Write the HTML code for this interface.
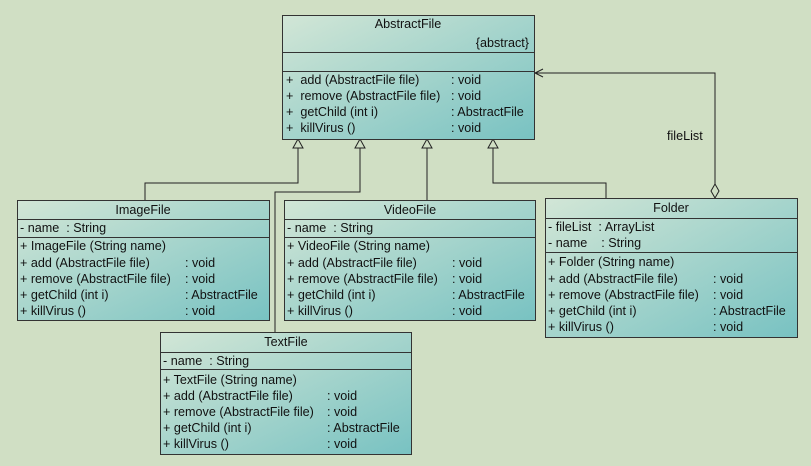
<!DOCTYPE html>
<html><head><meta charset="utf-8"><style>
html,body{margin:0;padding:0;background:#d0dfc4;}
svg{display:block;}
text{font-family:"Liberation Sans",sans-serif;font-size:12.6px;fill:#111;white-space:pre;}
</style></head><body>
<svg width="811" height="466" viewBox="0 0 811 466" xmlns="http://www.w3.org/2000/svg" xml:space="preserve">
<defs>
<linearGradient id="g" x1="0" y1="0" x2="1" y2="1">
<stop offset="0" stop-color="#d2e6d6"/>
<stop offset="1" stop-color="#78c2c2"/>
</linearGradient>
</defs>
<rect width="811" height="466" fill="#d0dfc4"/>
<g stroke="#222" fill="none" stroke-width="1">
<polyline points="298,148 298,183 145,183 145,200"/>
<polyline points="360,148 360,192 275,192 275,332"/>
<polyline points="427,148 427,200"/>
<polyline points="493,148 493,183 606,183 606,198"/>
<polyline points="715,184 715,73 535,73"/>
<polyline points="543,69 535,73 543,77"/>
</g>
<g stroke="#222" fill="#d0dfc4">
<polygon points="298,139 293,148 303,148"/>
<polygon points="360,139 355,148 365,148"/>
<polygon points="427,139 422,148 432,148"/>
<polygon points="493,139 488,148 498,148"/>
<polygon points="715,184 719,191 715,198 711,191"/>
</g>
<text x="667" y="140">fileList</text>

<rect x="282.5" y="15.5" width="252" height="124" fill="url(#g)" stroke="#333"/>
<line x1="282" y1="52.5" x2="535" y2="52.5" stroke="#333"/>
<line x1="282" y1="71.5" x2="535" y2="71.5" stroke="#333"/>
<text x="408" y="28" text-anchor="middle">AbstractFile</text>
<text x="529" y="47" text-anchor="end">{abstract}</text>
<text x="286" y="84">+  add (AbstractFile file)</text><text x="451" y="84">: void</text>
<text x="286" y="100">+  remove (AbstractFile file)</text><text x="451" y="100">: void</text>
<text x="286" y="116">+  getChild (int i)</text><text x="451" y="116">: AbstractFile</text>
<text x="286" y="132">+  killVirus ()</text><text x="451" y="132">: void</text>

<rect x="17.5" y="200.5" width="252" height="120" fill="url(#g)" stroke="#333"/>
<line x1="17" y1="219.5" x2="270" y2="219.5" stroke="#333"/>
<line x1="17" y1="237.5" x2="270" y2="237.5" stroke="#333"/>
<text x="143" y="214" text-anchor="middle">ImageFile</text>
<text x="20" y="232">- name  : String</text>
<text x="20" y="250">+ ImageFile (String name)</text>
<text x="20" y="267">+ add (AbstractFile file)</text><text x="185" y="267">: void</text>
<text x="20" y="283">+ remove (AbstractFile file)</text><text x="185" y="283">: void</text>
<text x="20" y="299">+ getChild (int i)</text><text x="185" y="299">: AbstractFile</text>
<text x="20" y="315">+ killVirus ()</text><text x="185" y="315">: void</text>

<rect x="284.5" y="200.5" width="251" height="120" fill="url(#g)" stroke="#333"/>
<line x1="284" y1="219.5" x2="536" y2="219.5" stroke="#333"/>
<line x1="284" y1="237.5" x2="536" y2="237.5" stroke="#333"/>
<text x="410" y="214" text-anchor="middle">VideoFile</text>
<text x="287" y="232">- name  : String</text>
<text x="287" y="250">+ VideoFile (String name)</text>
<text x="287" y="267">+ add (AbstractFile file)</text><text x="452" y="267">: void</text>
<text x="287" y="283">+ remove (AbstractFile file)</text><text x="452" y="283">: void</text>
<text x="287" y="299">+ getChild (int i)</text><text x="452" y="299">: AbstractFile</text>
<text x="287" y="315">+ killVirus ()</text><text x="452" y="315">: void</text>

<rect x="545.5" y="198.5" width="252" height="139" fill="url(#g)" stroke="#333"/>
<line x1="545" y1="218.5" x2="798" y2="218.5" stroke="#333"/>
<line x1="545" y1="252.5" x2="798" y2="252.5" stroke="#333"/>
<text x="671" y="212" text-anchor="middle">Folder</text>
<text x="548" y="231">- fileList  : ArrayList</text>
<text x="548" y="247">- name    : String</text>
<text x="548" y="266">+ Folder (String name)</text>
<text x="548" y="283">+ add (AbstractFile file)</text><text x="713" y="283">: void</text>
<text x="548" y="299">+ remove (AbstractFile file)</text><text x="713" y="299">: void</text>
<text x="548" y="315">+ getChild (int i)</text><text x="713" y="315">: AbstractFile</text>
<text x="548" y="331">+ killVirus ()</text><text x="713" y="331">: void</text>

<rect x="160.5" y="332.5" width="251" height="122" fill="url(#g)" stroke="#333"/>
<line x1="160" y1="352.5" x2="412" y2="352.5" stroke="#333"/>
<line x1="160" y1="369.5" x2="412" y2="369.5" stroke="#333"/>
<text x="286" y="346" text-anchor="middle">TextFile</text>
<text x="163" y="365">- name  : String</text>
<text x="163" y="384">+ TextFile (String name)</text>
<text x="163" y="400">+ add (AbstractFile file)</text><text x="327" y="400">: void</text>
<text x="163" y="416">+ remove (AbstractFile file)</text><text x="327" y="416">: void</text>
<text x="163" y="432">+ getChild (int i)</text><text x="327" y="432">: AbstractFile</text>
<text x="163" y="448">+ killVirus ()</text><text x="327" y="448">: void</text>
</svg>
</body></html>
